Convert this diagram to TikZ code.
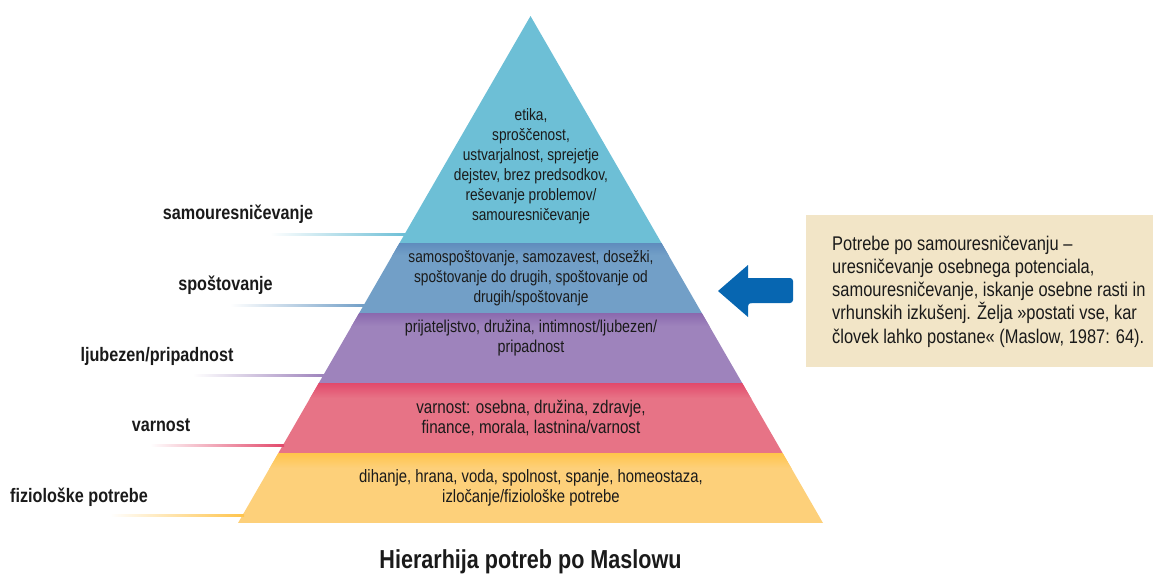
\documentclass[tikz,border=0pt]{standalone}
\usepackage{fontspec}
\setmainfont{Liberation Sans}[FakeStretch=0.83]
\definecolor{cyanC}{HTML}{6DBFD6}
\definecolor{blueC}{HTML}{729FC7}
\definecolor{blueD}{HTML}{5F8CBD}
\definecolor{purpC}{HTML}{9E83BC}
\definecolor{purpD}{HTML}{8A69AE}
\definecolor{pinkC}{HTML}{E77386}
\definecolor{pinkD}{HTML}{E2496B}
\definecolor{yellC}{HTML}{FDD07A}
\definecolor{yellD}{HTML}{FFC44B}
\definecolor{boxC}{HTML}{F2E5C7}
\definecolor{arrC}{HTML}{0766B1}
\definecolor{txtC}{HTML}{1A1A1A}
\tikzset{
  bandtext/.style={align=center, text=txtC, font=\fontsize{16.5}{20}\selectfont, inner sep=0pt},
  lvllabel/.style={anchor=base, text=txtC, font=\fontsize{19.5}{22}\selectfont\bfseries, inner sep=0pt},
  boxtext/.style={align=left, anchor=west, text=txtC, font=\fontsize{19.8}{23.3}\selectfont, inner sep=0pt},
}
\begin{document}
\begin{tikzpicture}[x=1pt,y=-1pt]
\useasboundingbox (0,0) rectangle (1153,574);
% top band
\fill[cyanC] (530.5,16) -- (661.5,243) -- (399.5,243) -- cycle;
% blue band
\begin{scope}
\clip (399.5,243) -- (661.5,243) -- (701.8,313) -- (359.2,313) -- cycle;
\fill[blueC] (300,243) rectangle (760,313);
\shade[top color=blueD,bottom color=blueC] (300,243) rectangle (760,255);
\end{scope}
% purple band
\begin{scope}
\clip (359.2,313) -- (701.8,313) -- (742.2,383) -- (318.8,383) -- cycle;
\fill[purpC] (300,313) rectangle (760,383);
\shade[top color=purpD,bottom color=purpC] (300,313) rectangle (760,326);
\end{scope}
% pink band
\begin{scope}
\clip (318.8,383) -- (742.2,383) -- (782.6,453) -- (278.4,453) -- cycle;
\fill[pinkC] (260,383) rectangle (800,453);
\shade[top color=pinkD,bottom color=pinkC] (260,383) rectangle (800,398);
\end{scope}
% yellow band
\begin{scope}
\clip (278.4,453) -- (782.6,453) -- (823,523) -- (238,523) -- cycle;
\fill[yellC] (220,453) rectangle (840,523);
\shade[top color=yellD,bottom color=yellC] (220,453) rectangle (840,468);
\end{scope}

% band texts
\node[bandtext] (t1) at (531,166) {etika,\\sproščenost,\\ustvarjalnost, sprejetje\\dejstev, brez predsodkov,\\reševanje problemov/\\samouresničevanje};
\node[bandtext] (t2) at (531,278) {samospoštovanje, samozavest, dosežki,\\spoštovanje do drugih, spoštovanje od\\drugih/spoštovanje};
\node[bandtext, font=\fontsize{17.2}{20}\selectfont] (t3) at (531,338) {prijateljstvo, družina, intimnost/ljubezen/\\pripadnost};
\node[bandtext, font=\fontsize{18.3}{20}\selectfont] (t4) at (531,418) {varnost: osebna, družina, zdravje,\\finance, morala, lastnina/varnost};
\node[bandtext, font=\fontsize{17.9}{20}\selectfont] (t5) at (531,488) {dihanje, hrana, voda, spolnost, spanje, homeostaza,\\izločanje/fiziološke potrebe};

% left level labels
\node[lvllabel] (l1) at (238,219) {samouresničevanje};
\node[lvllabel] (l2) at (225.5,290) {spoštovanje};
\node[lvllabel] (l3) at (157,361) {ljubezen/pripadnost};
\node[lvllabel] (l4) at (161,431) {varnost};
\node[lvllabel] (l5) at (79,502) {fiziološke potrebe};

% leader lines
\shade[left color=white,right color=cyanC] (270,233) rectangle (405,235.5);
\shade[left color=white,right color=blueC] (230,304) rectangle (364,306.5);
\shade[left color=white,right color=purpC] (193,374) rectangle (324,376.5);
\shade[left color=white,right color=pinkD] (150,444) rectangle (284,446.5);
\shade[left color=white,right color=yellD] (110,514) rectangle (244,516.5);

% arrow
\fill[arrC, rounded corners=3pt] (748,278) -- (793,278) -- (793,303) -- (748,303) -- (748,303.1);
\fill[arrC] (718,291) -- (748,265) -- (748,278) -- (752,278) -- (752,303) -- (748,303) -- (748,317) -- cycle;

% info box
\fill[boxC] (806,215) rectangle (1153,367);
\node[boxtext] (info) at (832,291.5) {Potrebe po samouresničevanju –\\uresničevanje osebnega potenciala,\\samouresničevanje, iskanje osebne rasti in\\vrhunskih izkušenj. Želja »postati vse, kar\\človek lahko postane« (Maslow, 1987: 64).};

% title
\node[anchor=base, text=txtC, font=\fontsize{26}{30}\selectfont\bfseries, inner sep=0pt] (title) at (530.5,568) {Hierarhija potreb po Maslowu};
\end{tikzpicture}
\end{document}
